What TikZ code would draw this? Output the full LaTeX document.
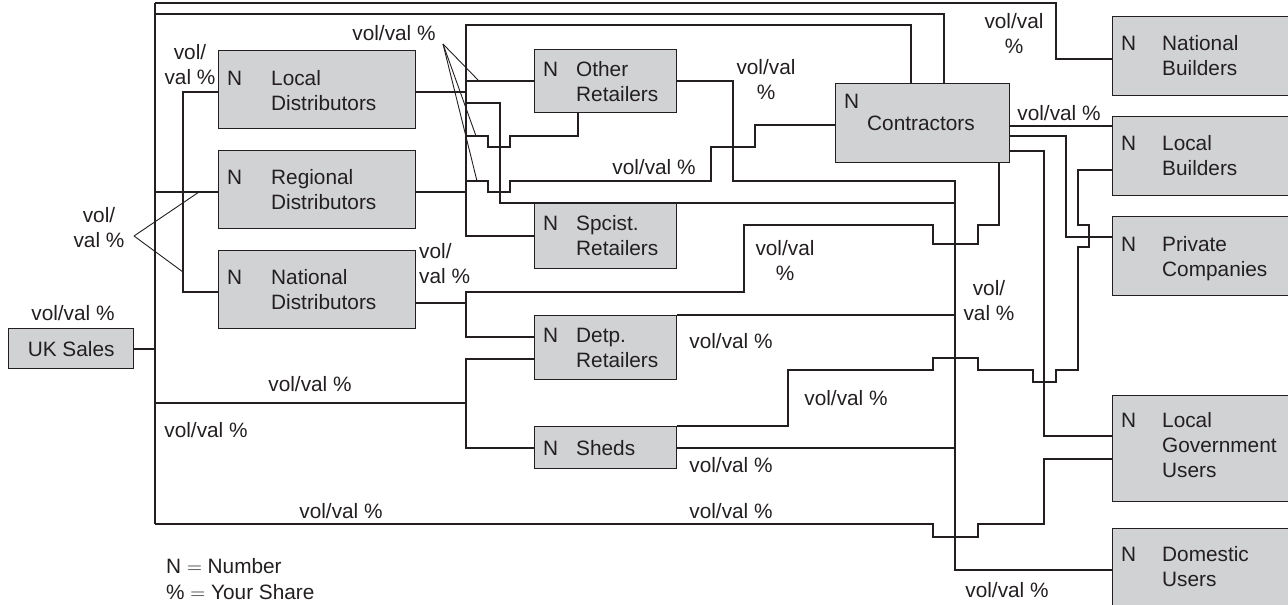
\documentclass[tikz,border=0pt]{standalone}
\usepackage{fontspec}
\setmainfont{Liberation Sans}
\usepackage{array}
\definecolor{boxgray}{RGB}{209,210,212}
\definecolor{inkc}{RGB}{35,31,32}
% "N" column followed by the stacked label lines
\newcommand\boxtext[2]{\begin{tabular}[t]{@{}p{#1}@{}l@{}}#2\end{tabular}}
\begin{document}
\begin{tikzpicture}[x=1pt,y=-1pt,
  every node/.style={font=\fontsize{20.8}{25}\selectfont, text=inkc},
  box/.style={draw=inkc, line width=1.3pt, fill=boxgray, anchor=north west, inner sep=0pt},
  wire/.style={draw=inkc, line width=1.9pt},
  ptr/.style={draw=inkc, line width=0.9pt},
  lbl/.style={anchor=base west, inner sep=0pt},
  tag/.style={inner sep=0pt, align=center}]
\useasboundingbox (0,0) rectangle (1288,605);

% ---- boxes ----
\node[box, minimum width=125pt, minimum height=40pt] (uk) at (8,328) {UK Sales};
\node[box, minimum width=197pt, minimum height=78pt] (ld) at (218,50) {};
\node[box, minimum width=197pt, minimum height=78pt] (rd) at (218,150) {};
\node[box, minimum width=197pt, minimum height=78pt] (nd) at (218,250) {};
\node[box, minimum width=142pt, minimum height=63pt] (orr) at (534,49) {};
\node[box, minimum width=142pt, minimum height=65pt] (sr) at (534,203) {};
\node[box, minimum width=142pt, minimum height=64pt] (dr) at (534,315) {};
\node[box, minimum width=142pt, minimum height=42pt] (sh) at (534,426) {};
\node[box, minimum width=174pt, minimum height=79pt] (co) at (835,83) {};
\node[box, minimum width=180pt, minimum height=79pt] (nb) at (1112,16) {};
\node[box, minimum width=180pt, minimum height=79pt] (lb) at (1112,116) {};
\node[box, minimum width=180pt, minimum height=79pt] (pc) at (1112,216) {};
\node[box, minimum width=180pt, minimum height=106pt] (lg) at (1112,395) {};
\node[box, minimum width=180pt, minimum height=84pt] (du) at (1112,528) {};

% ---- box texts ----
\node[lbl] (ldt) at (227,85) {\boxtext{44pt}{N & Local\\ & Distributors}};
\node[lbl] (rdt) at (227,184) {\boxtext{44pt}{N & Regional\\ & Distributors}};
\node[lbl] (ndt) at (227,284) {\boxtext{44pt}{N & National\\ & Distributors}};
\node[lbl] (ort) at (543,76) {\boxtext{33pt}{N & Other\\ & Retailers}};
\node[lbl] (srt) at (543,230) {\boxtext{33pt}{N & Spcist.\\ & Retailers}};
\node[lbl] (drt) at (543,342) {\boxtext{33pt}{N & Detp.\\ & Retailers}};
\node[lbl] (sht) at (543,455) {\boxtext{33pt}{N & Sheds}};
\node[lbl] (con) at (844,108) {N};
\node[lbl] (cot) at (867,130) {Contractors};
\node[lbl] (nbt) at (1121,50) {\boxtext{41pt}{N & National\\ & Builders}};
\node[lbl] (lbt) at (1121,150) {\boxtext{41pt}{N & Local\\ & Builders}};
\node[lbl] (pct) at (1121,251) {\boxtext{41pt}{N & Private\\ & Companies}};
\node[lbl] (lgt) at (1121,427) {\boxtext{41pt}{N & Local\\ & Government\\ & Users}};
\node[lbl] (dut) at (1121,561) {\boxtext{41pt}{N & Domestic\\ & Users}};

% ---- outer frame from UK Sales ----
\coordinate (ftop) at (155,3);
\coordinate (fbot) at (155,524);
\draw[wire] (ftop) -- (fbot);
\draw[wire] (uk.east) -- (uk.east -| ftop);
\draw[wire] (ftop) -- (1056,3) -- (1056,59) -- (nb.west |- 0,59);
\draw[wire] (155,14) -- (944,14) -- (co.north -| 944,0);
\draw[wire] (155,192) -- (rd.west |- 0,192);
\draw[wire] (155,403) -- (466,403);
\draw[wire] (dr.west |- 0,359) -- (466,359) -- (466,448) -- (sh.west |- 0,448);
\draw[wire] (fbot) -- (933,524) -- (933,537) -- (978,537) -- (978,524) -- (1044,524)
  -- (1044,459) -- (lg.west |- 0,459);

% ---- distributors ----
\draw[wire] (ld.west |- 0,92) -- (183,92) -- (183,292) -- (nd.west |- 0,292);
\draw[wire] (ld.east |- 0,92) -- (466,92);
\draw[wire] (rd.east |- 0,192) -- (466,192);
\draw[wire] (co.north -| 911,0) -- (911,25) -- (466,25) -- (466,236) -- (sr.west |- 0,236);
\draw[wire] (466,81) -- (orr.west |- 0,81);
\draw[wire] (466,103) -- (500,103) -- (500,203) -- (955,203);
\draw[wire] (orr.south -| 578,0) -- (578,136) -- (510,136) -- (510,147) -- (488,147)
  -- (488,136) -- (466,136);
\draw[wire] (466,181) -- (488,181) -- (488,192) -- (510,192) -- (510,181) -- (711,181)
  -- (711,147) -- (755,147) -- (755,125) -- (co.west |- 0,125);
\draw[wire] (nd.east |- 0,303) -- (466,303);
\draw[wire] (dr.west |- 0,337) -- (466,337) -- (466,292) -- (744,292) -- (744,225)
  -- (933,225) -- (933,244) -- (978,244) -- (978,225) -- (999,225) -- (co.south -| 999,0);

% ---- retailers ----
\draw[wire] (orr.east |- 0,81) -- (733,81) -- (733,181) -- (955,181) -- (955,570)
  -- (du.west |- 0,570);
\draw[wire] (dr.north east) -- (955,315);
\draw[wire] (sh.east |- 0,448) -- (955,448);
\draw[wire] (sh.north east) -- (788,426) -- (788,370) -- (933,370) -- (933,358)
  -- (978,358) -- (978,370) -- (1033,370) -- (1033,382) -- (1056,382) -- (1056,370)
  -- (1078,370) -- (1078,247) -- (1089,247) -- (1089,225) -- (1078,225) -- (1078,170)
  -- (lb.west |- 0,170);

% ---- contractors ----
\draw[wire] (co.east |- 0,126) -- (lb.west |- 0,126);
\draw[wire] (co.east |- 0,136) -- (1066,136) -- (1066,237) -- (pc.west |- 0,237);
\draw[wire] (co.east |- 0,151) -- (1044,151) -- (1044,436) -- (lg.west |- 0,436);

% ---- pointer lines ----
\coordinate (pa) at (443,44);
\draw[ptr] (pa) -- (479,81);
\draw[ptr] (pa) -- (476,136);
\draw[ptr] (pa) -- (477,181);
\coordinate (pb) at (134,236);
\draw[ptr] (pb) -- (199,192);
\draw[ptr] (pb) -- (183,272);

% ---- share labels ----
\node[tag] (v1) at (394,33) {vol/val \%};
\node[tag] (v2) at (190,65) {vol/\\val \%};
\node[tag] (v3) at (99,228) {vol/\\val \%};
\node[tag] (v4) at (73,313) {vol/val \%};
\node[tag, anchor=west, align=left] (v5) at (419,264) {vol/\\val \%};
\node[tag] (v6) at (766,80) {vol/val\\\%};
\node[tag] (v7) at (654,167) {vol/val \%};
\node[tag] (v8) at (1014,34) {vol/val\\\%};
\node[tag] (v9) at (1059,113) {vol/val \%};
\node[tag] (v10) at (785,261) {vol/val\\\%};
\node[tag] (v11) at (989,301) {vol/\\val \%};
\node[tag] (v12) at (731,341) {vol/val \%};
\node[tag] (v13) at (846,398) {vol/val \%};
\node[tag] (v14) at (731,465) {vol/val \%};
\node[tag] (v15) at (731,511) {vol/val \%};
\node[tag] (v16) at (341,511) {vol/val \%};
\node[tag] (v17) at (206,430) {vol/val \%};
\node[tag] (v18) at (310,384) {vol/val \%};
\node[tag] (v19) at (1007,590) {vol/val \%};

% ---- key ----
\node[lbl] (key1) at (166,573) {N $=$ Number};
\node[lbl] (key2) at (166,599) {\% $=$ Your Share};
\end{tikzpicture}
\end{document}
